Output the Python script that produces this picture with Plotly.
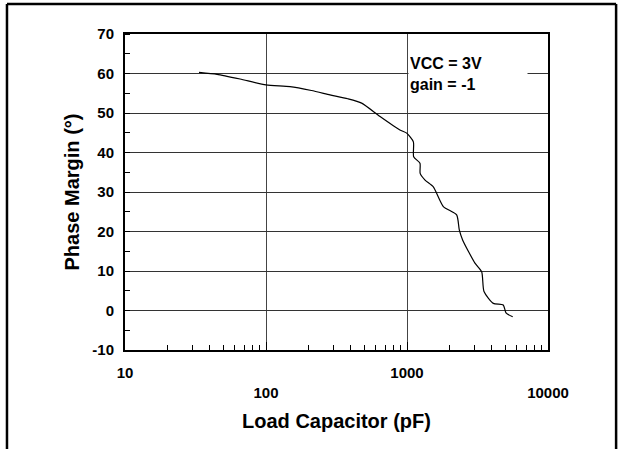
import plotly.graph_objects as go

# Phase margin vs load capacitance (VCC = 3V, gain = -1)
load_cap_pf = [33.5, 45, 65.5, 100, 148, 210, 284, 380, 477, 644, 891, 995,
               1110, 1115, 1236, 1240, 1343, 1537, 1811, 2250, 2349, 2484,
               3034, 3386, 3516, 4095, 4816, 5035, 5620]
phase_margin = [60.3, 59.8, 58.6, 57.1, 56.7, 55.7, 54.6, 53.6, 52.5, 49.1,
                45.7, 44.9, 42.7, 38.9, 37.3, 34.7, 33.0, 31.3, 26.3, 24.2,
                20.4, 17.8, 12.0, 9.8, 4.8, 1.8, 1.4, -0.6, -1.6]

x_tick_vals = [10, 100, 1000, 10000]
x_tick_text = ["10", "<br>100", "1000", "<br>10000"]
y_tick_vals = [-10, 0, 10, 20, 30, 40, 50, 60, 70]
y_tick_text = ["-10", "0", "10", "20", "30", "40", "50", "60", "70"]

FONT = "Liberation Sans, Arial, sans-serif"

fig = go.Figure()
fig.add_trace(go.Scatter(
    x=load_cap_pf, y=phase_margin, mode="lines",
    line=dict(color="black", width=1.2, shape="spline", smoothing=0.6),
    showlegend=False,
))

fig.update_layout(
    width=622, height=449,
    margin=dict(l=125, r=74, t=34, b=99),
    paper_bgcolor="white", plot_bgcolor="white",
    font=dict(family=FONT, color="black"),
    xaxis=dict(
        type="log", range=[1, 4],
        tickvals=x_tick_vals, ticktext=x_tick_text,
        tickfont=dict(size=15, family=FONT, weight="bold"),
        ticks="inside", ticklen=8, tickcolor="black", tickwidth=1,
        showgrid=True, gridcolor="#444", gridwidth=1,
        showline=True, linecolor="black", linewidth=2, mirror=True,
        minor=dict(ticks="inside", ticklen=5, tickcolor="black", showgrid=False,
                   tickvals=[20, 30, 40, 50, 60, 70, 80, 90,
                             200, 300, 400, 500, 600, 700, 800, 900,
                             2000, 3000, 4000, 5000, 6000, 7000, 8000, 9000]),
        ticklabelstandoff=8,
        title=dict(text="Load Capacitor (pF)", standoff=14,
                   font=dict(size=20, family=FONT, weight="bold")),
        zeroline=False,
    ),
    yaxis=dict(
        range=[-10, 70], tickvals=y_tick_vals, ticktext=y_tick_text,
        tickfont=dict(size=15, family=FONT, weight="bold"),
        ticks="", showgrid=True, gridcolor="#333", gridwidth=1,
        showline=True, linecolor="black", linewidth=2, mirror=True,
        minor=dict(ticks="inside", ticklen=5, tickcolor="black", dtick=5,
                   tick0=5, showgrid=False),
        ticklabelstandoff=6,
        title=dict(text="Phase Margin (°)", standoff=7,
                   font=dict(size=20, family=FONT, weight="bold")),
        zeroline=False,
    ),
)

# condition label with white background over the grid
fig.add_annotation(
    xref="paper", yref="y", x=0.669, y=60, xanchor="left", yanchor="middle",
    text="VCC = 3V<br>gain = -1", showarrow=False, align="left",
    font=dict(size=16, family=FONT, weight="bold"),
    bgcolor="white", width=116, height=46,
)

# outer frame around the figure
for x0, y0, x1, y1 in [(-0.279, 1.095, 1.161, 1.095),
                       (-0.279, 1.095, -0.279, -0.32),
                       (1.161, 1.095, 1.161, -0.32)]:
    fig.add_shape(type="line", xref="paper", yref="paper",
                  x0=x0, y0=y0, x1=x1, y1=y1,
                  line=dict(color="black", width=2.5))

# drop the browser's default page margin so the figure sits at (0, 0)
fig.write_html("out.html", config={"displayModeBar": False},
               post_script="document.body.style.margin = '0';")
